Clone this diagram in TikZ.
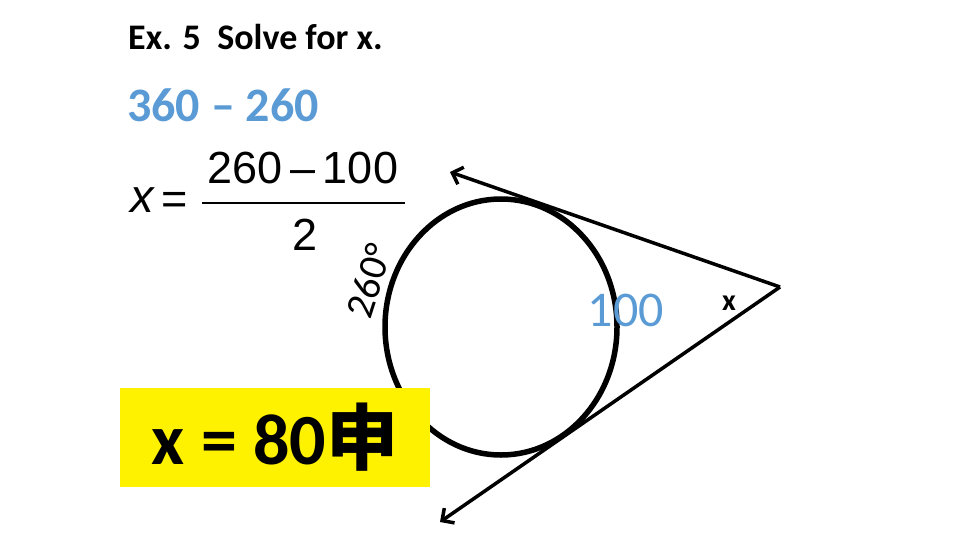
\documentclass[tikz,border=0pt]{standalone}
\usepackage{fontspec}
\setmainfont{Carlito}
\newfontfamily\arialfont{Liberation Sans}
\newfontfamily\cjkfont{Noto Sans CJK SC}
\usepackage{tikz}
\usetikzlibrary{arrows.meta, shapes.geometric}
\usepackage{xcolor}
\definecolor{slideblue}{HTML}{5B9BD5}

\begin{document}
\begin{tikzpicture}[
            x=1pt, y=-1pt,
            every node/.style={inner sep=0pt},
            title/.style={font=\fontsize{36}{40}\selectfont\bfseries},
            work/.style={text=slideblue, font=\fontsize{48}{52}\selectfont\bfseries},
            eq/.style={font=\arialfont\fontsize{45}{50}\selectfont},
            tangent/.style={line width=3.5pt, -{Straight Barb[length=9pt, width=18pt]}},
            >=stealth
        ]
            \useasboundingbox (0,0) rectangle (960,540);
            \node[anchor=base west, title] (title) at (128,50) {Ex. 5\ \ Solve for x.};
            \node[anchor=base west, work] (diff) at (127,122) {360 – 260};
            \node[eq, font=\arialfont\itshape\fontsize{47}{50}\selectfont] (x) at (142,200) {x};
            \node[eq] (eqsign) at (175,203) {=};
            \node[eq] (num) at (303,168) {260\,–\,100};
            \node[eq] (den) at (305,235) {2};
            \coordinate (barl) at (202,203);
            \coordinate (barr) at (405,203);
            \draw[line width=2.5pt] (barl) -- (barr);
            \node[draw, ellipse, line width=5.5pt, minimum width=232pt, minimum height=256pt] (circ) at (501,327) {};
            \coordinate (v) at (780,287);
            \coordinate (t1) at (450,172);
            \coordinate (t2) at (440,522);
            \draw[tangent] (v) -- (t1);
            \draw[tangent] (v) -- (t2);
            \node[rotate=72, font=\fontsize{40}{44}\selectfont] (arc) at (369,281) {260°};
            \node[text=slideblue, font=\fontsize{50}{54}\selectfont] (minor) at (626,310) {100};
            \node[font=\fontsize{30}{34}\selectfont\bfseries] (ang) at (729,303) {x};
            \node[fill=yellow, minimum width=310pt, minimum height=99pt,
                font=\fontsize{72}{76}\selectfont\bfseries] (ans) at (275,437.5) {x = 80{\cjkfont 申}};
        \end{tikzpicture}
\end{document}
